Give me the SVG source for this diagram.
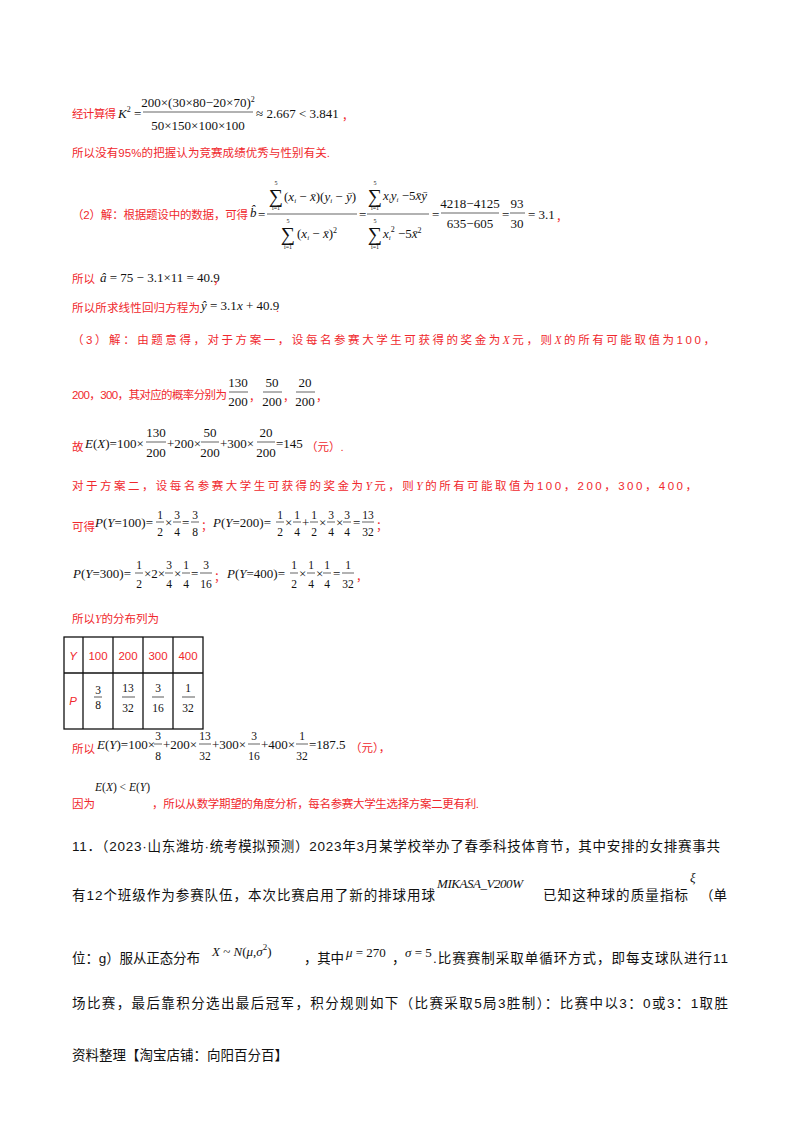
<svg xmlns="http://www.w3.org/2000/svg" width="800" height="1132" viewBox="0 0 800 1132">
<style>
.r{fill:#f0282d;font-family:"Liberation Sans","Noto Sans CJK SC",sans-serif;font-size:11.5px}
.k{fill:#111;font-family:"Liberation Sans","Noto Sans CJK SC",sans-serif;font-size:13.5px}
.m{fill:#111;font-family:"Liberation Serif","Noto Sans CJK SC",serif;font-size:13px}
.s{fill:#111;font-family:"Liberation Serif",serif;font-size:11.5px}
.c{text-anchor:middle}
.i{font-style:italic}
.t{fill:#111;font-family:"Liberation Serif",serif;font-size:6px;text-anchor:middle}
.g{fill:#111;font-family:"Liberation Serif",serif;font-size:20px;text-anchor:middle}
line{stroke:#222;stroke-width:0.7}
.tb line{stroke:#111;stroke-width:1.3}
</style>
<rect width="800" height="1132" fill="#fff"/>
<g id="k2">
<text class="r" x="72" y="118" textLength="44">经计算得</text>
<text class="m" x="118" y="118"><tspan class="i">K</tspan><tspan font-size="8" dy="-6">2</tspan><tspan dy="6"> =</tspan></text>
<text class="m c" x="198" y="107">200×(30×80−20×70)<tspan font-size="8" dy="-5">2</tspan></text>
<line x1="143" y1="112" x2="253" y2="112"/>
<text class="m c" x="198" y="130">50×150×100×100</text>
<text class="m" x="256" y="118">≈ 2.667 &lt; 3.841</text>
<text class="r" x="342" y="120">，</text>
<text class="r" x="72" y="157" textLength="258">所以没有95%的把握认为竞赛成绩优秀与性别有关.</text>
</g>
<g id="bhat">
<text class="r" x="72" y="219" textLength="176">（2）解：根据题设中的数据，可得</text>
<text class="m i" x="250" y="217">b̂</text>
<text class="m" x="258" y="219">=</text>
<text class="g" x="276" y="203">∑</text><text class="t" x="276" y="185">5</text><text class="t" x="276" y="210">i=1</text>
<text class="m" x="284" y="201">(<tspan class="i">x</tspan><tspan font-size="7" dy="2" class="i">i</tspan><tspan dy="-2"> − </tspan><tspan class="i">x̄</tspan>)(<tspan class="i">y</tspan><tspan font-size="7" dy="2" class="i">i</tspan><tspan dy="-2"> − </tspan><tspan class="i">ȳ</tspan>)</text>
<line x1="267" y1="214" x2="357" y2="214"/>
<text class="g" x="288" y="241">∑</text><text class="t" x="288" y="223">5</text><text class="t" x="288" y="249">i=1</text>
<text class="m" x="297" y="238">(<tspan class="i">x</tspan><tspan font-size="7" dy="2" class="i">i</tspan><tspan dy="-2"> − </tspan><tspan class="i">x̄</tspan>)<tspan font-size="8" dy="-5">2</tspan></text>
<text class="m" x="359" y="219">=</text>
<text class="g" x="375" y="203">∑</text><text class="t" x="375" y="185">5</text><text class="t" x="375" y="210">i=1</text>
<text class="m" x="383" y="200"><tspan class="i">x</tspan><tspan font-size="7" dy="2" class="i">i</tspan><tspan dy="-2" class="i">y</tspan><tspan font-size="7" dy="2" class="i">i</tspan><tspan dy="-2"> −5</tspan><tspan class="i">x̄ȳ</tspan></text>
<line x1="367" y1="214" x2="429" y2="214"/>
<text class="g" x="375" y="241">∑</text><text class="t" x="375" y="223">5</text><text class="t" x="375" y="249">i=1</text>
<text class="m" x="383" y="238"><tspan class="i">x</tspan><tspan font-size="7" dy="2" class="i">i</tspan><tspan font-size="8" dy="-8">2</tspan><tspan dy="6"> −5</tspan><tspan class="i">x̄</tspan><tspan font-size="8" dy="-5">2</tspan></text>
<text class="m" x="432" y="219">=</text>
<text class="m c" x="470" y="208">4218−4125</text>
<line x1="441" y1="213" x2="499" y2="213"/>
<text class="m c" x="470" y="228">635−605</text>
<text class="m" x="502" y="219">=</text>
<text class="m c" x="517" y="208">93</text>
<line x1="510" y1="213" x2="525" y2="213"/>
<text class="m c" x="517" y="228">30</text>
<text class="m" x="528" y="219">= 3.1</text>
<text class="r" x="556" y="221">，</text>
</g>
<g id="ahat">
<text class="r" x="72" y="283">所以</text>
<text class="m" x="100" y="282"><tspan class="i">â</tspan> = 75 − 3.1×11 = 40.9</text>
<text class="r" x="213" y="284">，</text>
<text class="r" x="72" y="312" textLength="128">所以所求线性回归方程为</text>
<text class="m" x="201" y="310"><tspan class="i">ŷ</tspan> = 3.1<tspan class="i">x</tspan> + 40.9</text>
<text class="r" x="276" y="312">.</text>
</g>
<g id="part3">
<text class="r" x="72" y="344" font-size="13" textLength="643">（3）解：由题意得，对于方案一，设每名参赛大学生可获得的奖金为<tspan class="i" font-family="Liberation Serif">X</tspan>元，则<tspan class="i" font-family="Liberation Serif">X</tspan>的所有可能取值为100，</text>
<text class="r" x="72" y="399" textLength="155">200，300，其对应的概率分别为</text>
<text class="m c" x="238" y="387">130</text><line x1="229" y1="392" x2="248" y2="392"/><text class="m c" x="238" y="406">200</text>
<text class="r" x="249" y="401">，</text>
<text class="m c" x="272" y="387">50</text><line x1="263" y1="392" x2="282" y2="392"/><text class="m c" x="272" y="406">200</text>
<text class="r" x="283" y="401">，</text>
<text class="m c" x="305" y="387">20</text><line x1="296" y1="392" x2="315" y2="392"/><text class="m c" x="305" y="406">200</text>
<text class="r" x="316" y="401">，</text>
<text class="r" x="72" y="451">故</text>
<text class="m" x="85" y="448"><tspan class="i">E</tspan>(<tspan class="i">X</tspan>)=100×</text>
<text class="m c" x="156" y="437">130</text><line x1="146" y1="442" x2="166" y2="442"/><text class="m c" x="156" y="457">200</text>
<text class="m" x="167" y="448">+200×</text>
<text class="m c" x="210" y="437">50</text><line x1="201" y1="442" x2="219" y2="442"/><text class="m c" x="210" y="457">200</text>
<text class="m" x="220" y="448">+300×</text>
<text class="m c" x="266" y="437">20</text><line x1="257" y1="442" x2="275" y2="442"/><text class="m c" x="266" y="457">200</text>
<text class="m" x="276" y="448">=145</text>
<text class="r" x="306" y="451">（元）.</text>
<text class="r" x="72" y="490" font-size="13" textLength="625">对于方案二，设每名参赛大学生可获得的奖金为<tspan class="i" font-family="Liberation Serif">Y</tspan>元，则<tspan class="i" font-family="Liberation Serif">Y</tspan>的所有可能取值为100，200，300，400，</text>
</g>
<g id="probs">
<text class="r" x="72" y="531">可得</text>
<text class="m" x="95" y="527"><tspan class="i">P</tspan>(<tspan class="i">Y</tspan>=100)=</text>
<text class="s c" x="160" y="519">1</text><line x1="156" y1="522" x2="164" y2="522"/><text class="s c" x="160" y="536">2</text>
<text class="m" x="165" y="527">×</text>
<text class="s c" x="177" y="519">3</text><line x1="173" y1="522" x2="181" y2="522"/><text class="s c" x="177" y="536">4</text>
<text class="m" x="182" y="527">=</text>
<text class="s c" x="195" y="519">3</text><line x1="191" y1="522" x2="199" y2="522"/><text class="s c" x="195" y="536">8</text>
<text class="r" x="201" y="530">；</text>
<text class="m" x="213" y="527"><tspan class="i">P</tspan>(<tspan class="i">Y</tspan>=200)=</text>
<text class="s c" x="280" y="519">1</text><line x1="276" y1="522" x2="284" y2="522"/><text class="s c" x="280" y="536">2</text>
<text class="m" x="285" y="527">×</text>
<text class="s c" x="297" y="519">1</text><line x1="293" y1="522" x2="301" y2="522"/><text class="s c" x="297" y="536">4</text>
<text class="m" x="302" y="527">+</text>
<text class="s c" x="314" y="519">1</text><line x1="310" y1="522" x2="318" y2="522"/><text class="s c" x="314" y="536">2</text>
<text class="m" x="319" y="527">×</text>
<text class="s c" x="331" y="519">3</text><line x1="327" y1="522" x2="335" y2="522"/><text class="s c" x="331" y="536">4</text>
<text class="m" x="336" y="527">×</text>
<text class="s c" x="347" y="519">3</text><line x1="343" y1="522" x2="351" y2="522"/><text class="s c" x="347" y="536">4</text>
<text class="m" x="353" y="527">=</text>
<text class="s c" x="368" y="519">13</text><line x1="362" y1="522" x2="374" y2="522"/><text class="s c" x="368" y="536">32</text>
<text class="r" x="376" y="530">；</text>
<text class="m" x="73" y="578"><tspan class="i">P</tspan>(<tspan class="i">Y</tspan>=300)=</text>
<text class="s c" x="139" y="569">1</text><line x1="135" y1="573" x2="143" y2="573"/><text class="s c" x="139" y="588">2</text>
<text class="m" x="144" y="578">×2×</text>
<text class="s c" x="169" y="569">3</text><line x1="165" y1="573" x2="173" y2="573"/><text class="s c" x="169" y="588">4</text>
<text class="m" x="174" y="578">×</text>
<text class="s c" x="186" y="569">1</text><line x1="182" y1="573" x2="190" y2="573"/><text class="s c" x="186" y="588">4</text>
<text class="m" x="191" y="578">=</text>
<text class="s c" x="206" y="569">3</text><line x1="200" y1="573" x2="212" y2="573"/><text class="s c" x="206" y="588">16</text>
<text class="r" x="214" y="581">；</text>
<text class="m" x="227" y="578"><tspan class="i">P</tspan>(<tspan class="i">Y</tspan>=400)=</text>
<text class="s c" x="294" y="569">1</text><line x1="290" y1="573" x2="298" y2="573"/><text class="s c" x="294" y="588">2</text>
<text class="m" x="299" y="578">×</text>
<text class="s c" x="311" y="569">1</text><line x1="307" y1="573" x2="315" y2="573"/><text class="s c" x="311" y="588">4</text>
<text class="m" x="316" y="578">×</text>
<text class="s c" x="327" y="569">1</text><line x1="323" y1="573" x2="331" y2="573"/><text class="s c" x="327" y="588">4</text>
<text class="m" x="333" y="578">=</text>
<text class="s c" x="348" y="569">1</text><line x1="342" y1="573" x2="354" y2="573"/><text class="s c" x="348" y="588">32</text>
<text class="r" x="356" y="581">，</text>
<text class="r" x="72" y="623" font-size="12">所以<tspan class="i" font-family="Liberation Serif">Y</tspan>的分布列为</text>
</g>
<g id="table" class="tb">
<rect x="64" y="637" width="139" height="92" fill="none" stroke="#111" stroke-width="1.3"/>
<line x1="64" y1="673" x2="203" y2="673"/>
<line x1="83" y1="637" x2="83" y2="729"/>
<line x1="113" y1="637" x2="113" y2="729"/>
<line x1="143" y1="637" x2="143" y2="729"/>
<line x1="173" y1="637" x2="173" y2="729"/>
<text class="r i c" x="73" y="660" font-size="13" font-family="Liberation Serif">Y</text>
<text class="r c" x="98" y="660" font-size="12.5">100</text>
<text class="r c" x="128" y="660" font-size="12.5">200</text>
<text class="r c" x="158" y="660" font-size="12.5">300</text>
<text class="r c" x="188" y="660" font-size="12.5">400</text>
<text class="r i c" x="73" y="705" font-family="Liberation Serif" font-size="14">P</text>
<text class="s c" x="98" y="694" font-size="9.5">3</text><line x1="94" y1="697" x2="102" y2="697" style="stroke-width:0.7"/><text class="s c" x="98" y="709" font-size="9.5">8</text>
<text class="s c" x="128" y="692">13</text><line x1="122" y1="697" x2="135" y2="697" style="stroke-width:0.7"/><text class="s c" x="128" y="712">32</text>
<text class="s c" x="158" y="692">3</text><line x1="152" y1="697" x2="164" y2="697" style="stroke-width:0.7"/><text class="s c" x="158" y="712">16</text>
<text class="s c" x="188" y="692">1</text><line x1="182" y1="697" x2="195" y2="697" style="stroke-width:0.7"/><text class="s c" x="188" y="712">32</text>
</g>
<g id="ey">
<text class="r" x="72" y="753">所以</text>
<text class="m" x="97" y="749"><tspan class="i">E</tspan>(<tspan class="i">Y</tspan>)=100×</text>
<text class="s c" x="158" y="740">3</text><line x1="154" y1="744" x2="162" y2="744"/><text class="s c" x="158" y="760">8</text>
<text class="m" x="163" y="749">+200×</text>
<text class="s c" x="205" y="740">13</text><line x1="199" y1="744" x2="211" y2="744"/><text class="s c" x="205" y="760">32</text>
<text class="m" x="212" y="749">+300×</text>
<text class="s c" x="254" y="740">3</text><line x1="248" y1="744" x2="260" y2="744"/><text class="s c" x="254" y="760">16</text>
<text class="m" x="261" y="749">+400×</text>
<text class="s c" x="302" y="740">1</text><line x1="296" y1="744" x2="308" y2="744"/><text class="s c" x="302" y="760">32</text>
<text class="m" x="309" y="749">=187.5</text>
<text class="r" x="350" y="752">（元），</text>
<text class="s" x="95" y="791" font-size="11"><tspan class="i">E</tspan>(<tspan class="i">X</tspan>) &lt; <tspan class="i">E</tspan>(<tspan class="i">Y</tspan>)</text>
<text class="r" x="72" y="808">因为</text>
<text class="r" x="152" y="808" textLength="327">，所以从数学期望的角度分析，每名参赛大学生选择方案二更有利.</text>
</g>
<g id="q11">
<text class="k" x="72" y="851" textLength="648">11．（2023·山东潍坊·统考模拟预测）2023年3月某学校举办了春季科技体育节，其中安排的女排赛事共</text>
<text class="k" x="72" y="900" textLength="363">有12个班级作为参赛队伍，本次比赛启用了新的排球用球</text>
<text class="m i" x="437" y="888" font-size="14" textLength="86">MIKASA_V200W</text>
<text class="k" x="543" y="900" textLength="145">已知这种球的质量指标</text>
<text class="m i" x="690" y="882" font-size="14">ξ</text>
<text class="k" x="700" y="900">（单</text>
<text class="k" x="72" y="963" textLength="128">位：g）服从正态分布</text>
<text class="m" x="212" y="956" font-size="15"><tspan class="i">X</tspan> ~ <tspan class="i">N</tspan>(<tspan class="i">μ</tspan>,<tspan class="i">σ</tspan><tspan font-size="9" dy="-6">2</tspan><tspan dy="6">)</tspan></text>
<text class="k" x="304" y="963" textLength="40">，其中</text>
<text class="m" x="346" y="957" font-size="14"><tspan class="i">μ</tspan> = 270</text>
<text class="k" x="392" y="963">，</text>
<text class="m" x="405" y="957" font-size="14"><tspan class="i">σ</tspan> = 5</text>
<text class="k" x="433" y="963" textLength="295">.比赛赛制采取单循环方式，即每支球队进行11</text>
<text class="k" x="72" y="1008" textLength="656">场比赛，最后靠积分选出最后冠军，积分规则如下（比赛采取5局3胜制）：比赛中以3：0或3：1取胜</text>
<text class="k" x="72" y="1060" font-size="9.5">资料整理【淘宝店铺：向阳百分百】</text>
</g>
</svg>
